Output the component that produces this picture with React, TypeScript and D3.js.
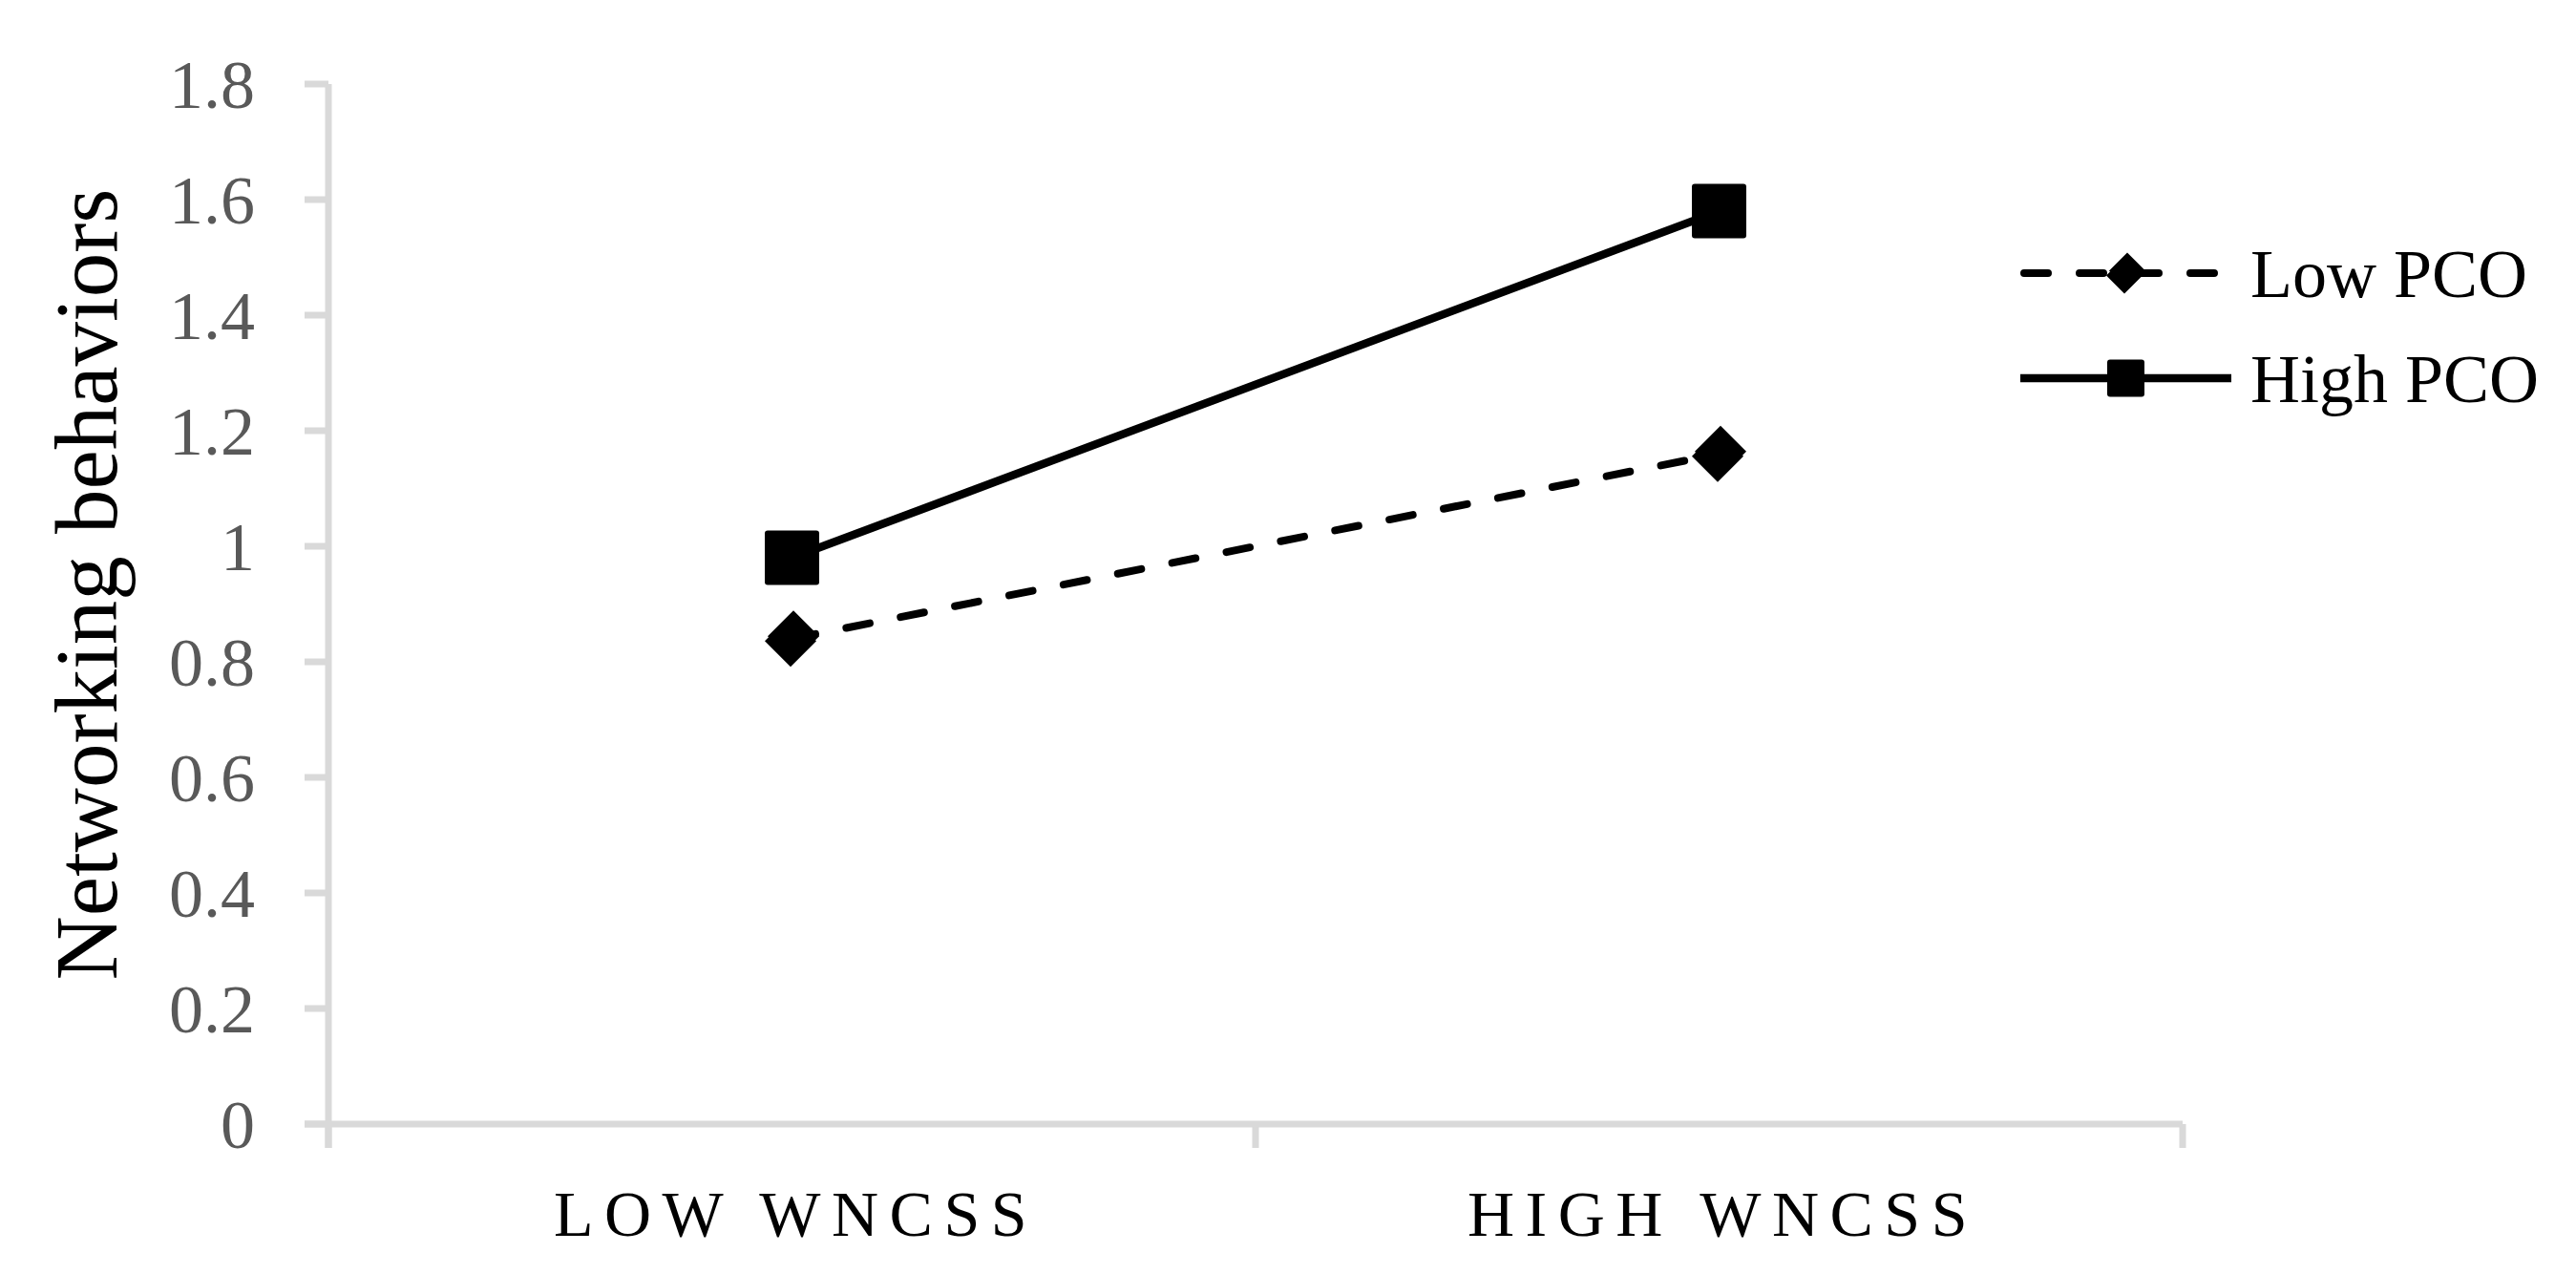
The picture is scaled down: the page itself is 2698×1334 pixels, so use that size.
import React from "react";
import * as d3 from "d3";

const categories = ["LOW WNCSS", "HIGH WNCSS"];
const seriesNames = ["Low PCO", "High PCO"];
const lowPCO = [0.84, 1.16];
const highPCO = [0.98, 1.58];
const yTicks = [0, 0.2, 0.4, 0.6, 0.8, 1, 1.2, 1.4, 1.6, 1.8];
const yTitle = "Networking behaviors";

const W = 2698;
const H = 1334;
const FONT = "'Liberation Serif', 'Times New Roman', serif";
const AXIS = "#d9d9d9";

function Diamond({ cx, cy, r }: { cx: number; cy: number; r: number }) {
  const p = (x: number, y: number) =>
    `M${x},${y - r}L${x + r},${y}L${x},${y + r}L${x - r},${y}Z`;
  return (
    <g fill="#000">
      <path d={p(cx + 1.5, cy - 2.5)} />
      <path d={p(cx - 1.5, cy + 2.5)} />
    </g>
  );
}

function Square({ cx, cy, s }: { cx: number; cy: number; s: number }) {
  return <rect x={cx - s / 2} y={cy - s / 2} width={s} height={s} rx={3} fill="#000" />;
}

export default function App() {
  const left = 344;
  const right = 2286;
  const top = 88;
  const bottom = 1177;

  const x = d3.scaleBand<string>().domain(categories).range([left, right]).padding(0);
  const y = d3.scaleLinear().domain([0, 1.8]).range([bottom, top]);
  const cx = (c: string) => (x(c) as number) + x.bandwidth() / 2;

  const line = d3
    .line<number>()
    .x((_, i) => cx(categories[i]))
    .y((v) => y(v));

  const xTickPos = [left, ...categories.map((c) => (x(c) as number) + x.bandwidth())];

  const legendY = [286, 396];
  const legX0 = 2116;
  const legX1 = 2337;
  const legMid = (legX0 + legX1) / 2;

  return (
    <svg
      width={W}
      height={H}
      style={{ position: "fixed", left: 0, top: 0, background: "#fff" }}
      fontFamily={FONT}
    >
      <rect x={0} y={0} width={W} height={H} fill="#fff" />
      {/* y axis */}
      <line x1={left} x2={left} y1={y(1.8)} y2={bottom + 25} stroke={AXIS} strokeWidth={7} />
      {yTicks.map((t) => (
        <g key={t}>
          <line x1={left - 25} x2={left} y1={y(t)} y2={y(t)} stroke={AXIS} strokeWidth={7} />
          <text
            x={267}
            y={y(t)}
            dy="0.35em"
            textAnchor="end"
            fontSize={72}
            fill="#595959"
          >
            {String(t)}
          </text>
        </g>
      ))}
      {/* x axis */}
      <line x1={left - 25} x2={right} y1={bottom} y2={bottom} stroke={AXIS} strokeWidth={7} />
      {xTickPos.map((p, i) => (
        <line key={i} x1={p} x2={p} y1={bottom} y2={bottom + 25} stroke={AXIS} strokeWidth={7} />
      ))}
      {categories.map((c) => (
        <text
          key={c}
          x={cx(c) + 4}
          y={1294}
          textAnchor="middle"
          fontSize={68}
          letterSpacing={11.5}
          fill="#000"
        >
          {c}
        </text>
      ))}
      {/* y title */}
      <text
        transform={`translate(${122},${612}) rotate(-90)`}
        textAnchor="middle"
        fontSize={93}
        fill="#000"
      >
        {yTitle}
      </text>
      {/* series */}
      <path
        d={line(lowPCO) || ""}
        fill="none"
        stroke="#000"
        strokeWidth={8}
        strokeLinecap="round"
        strokeDasharray="25 33"
      />
      <path d={line(highPCO) || ""} fill="none" stroke="#000" strokeWidth={8.5} />
      {lowPCO.map((v, i) => (
        <Diamond key={i} cx={cx(categories[i])} cy={y(v)} r={27} />
      ))}
      {highPCO.map((v, i) => (
        <Square key={i} cx={cx(categories[i])} cy={y(v)} s={57} />
      ))}
      {/* legend */}
      <line
        x1={legX0 + 4}
        x2={legX1 - 4}
        y1={legendY[0]}
        y2={legendY[0]}
        stroke="#000"
        strokeWidth={8}
        strokeLinecap="round"
        strokeDasharray="25 33"
      />
      <Diamond cx={legMid} cy={legendY[0]} r={19} />
      <text x={2357} y={legendY[0]} dy="0.35em" fontSize={72} fill="#000">
        {seriesNames[0]}
      </text>
      <line x1={legX0} x2={legX1} y1={legendY[1]} y2={legendY[1]} stroke="#000" strokeWidth={8.5} />
      <Square cx={legMid} cy={legendY[1]} s={39} />
      <text x={2357} y={legendY[1]} dy="0.35em" fontSize={72} fill="#000">
        {seriesNames[1]}
      </text>
    </svg>
  );
}
